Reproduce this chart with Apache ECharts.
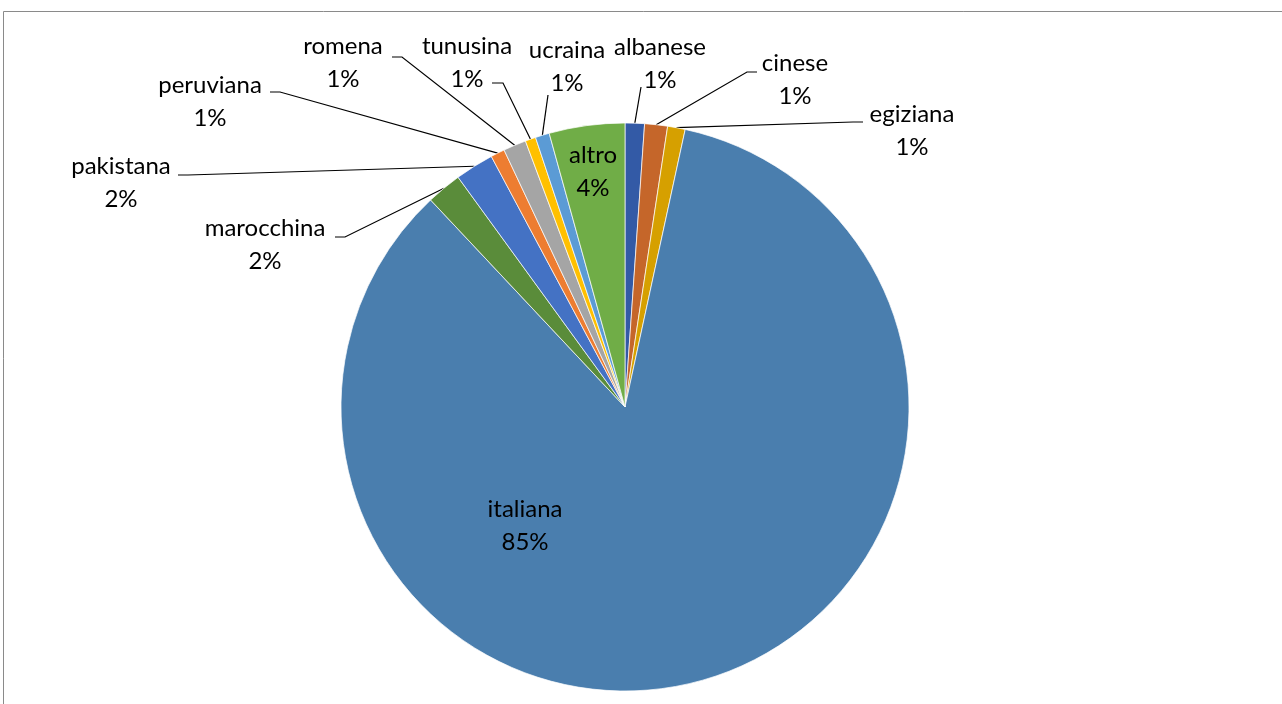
<!DOCTYPE html>
<html>
<head>
<meta charset="utf-8">
<script src="https://cdn.jsdelivr.net/npm/echarts@6/dist/echarts.min.js"></script>
<style>
html,body{margin:0;padding:0;background:#fff;}
#chart{width:1282px;height:704px;}
</style>
</head>
<body>
<div id="chart"></div>
<script>
// ---- data ----
const categories = ['albanese','cinese','egiziana','italiana','marocchina','pakistana','peruviana','romena','tunusina','ucraina','altro'];
const values = [1.1, 1.3, 1.0, 84.6, 2.0, 2.2, 0.8, 1.3, 0.6, 0.8, 4.3];
const colors = ['#335AA6','#C5662A','#D6A000','#4A7EAE','#5A8C3A','#4472C4','#ED7D31','#A5A5A5','#FFC000','#5B9BD5','#70AD47'];
const insideLabels = ['italiana','altro'];

// ---- label layout (label block centre, leader attach offset, elbow offset) ----
const labelLayoutPos = {
  albanese:   {c:[660,64],  a:[-19,23],  e:[-19,23]},
  cinese:     {c:[795,80],  a:[-38,-8],  e:[-48,-8]},
  egiziana:   {c:[912,131], a:[-49,-9],  e:[-59,-9]},
  italiana:   {c:[525,526]},
  marocchina: {c:[265,245], a:[70,-8],   e:[80,-8]},
  pakistana:  {c:[121,183], a:[57,-8],   e:[67,-8]},
  peruviana:  {c:[210,102], a:[60,-10],  e:[70,-10]},
  romena:     {c:[343,63],  a:[49,-6],   e:[59,-6]},
  tunusina:   {c:[467,63],  a:[25,20],   e:[36,20]},
  ucraina:    {c:[567,67],  a:[-19,28],  e:[-19,28]},
  altro:      {c:[593,172]}
};

const pieCenter = [625, 407];
const pieRadius = 284;

const chart = echarts.init(document.getElementById('chart'), null, {renderer:'canvas'});

const seriesData = categories.map((name, i) => {
  const inside = insideLabels.indexOf(name) >= 0;
  return {
    name: name,
    value: values[i],
    itemStyle: {color: colors[i]},
    label: {position: inside ? 'inside' : 'outside'},
    labelLine: {show: !inside}
  };
});

const option = {
  animation: false,
  backgroundColor: '#ffffff',
  graphic: [{
    type: 'rect',
    shape: {x: 3.5, y: 11.5, width: 1300, height: 720},
    style: {fill: 'none', stroke: '#8a8a8a', lineWidth: 1},
    silent: true
  }],
  series: [{
    type: 'pie',
    center: pieCenter,
    radius: pieRadius,
    startAngle: 90,
    clockwise: true,
    avoidLabelOverlap: false,
    percentPrecision: 2,
    data: seriesData,
    itemStyle: {borderColor: '#ffffff', borderWidth: 0.7},
    label: {
      show: true,
      fontFamily: 'Lato',
      fontSize: 24,
      lineHeight: 33,
      color: '#000000',
      align: 'center',
      formatter: function (p) { return p.name + '\n' + Math.round(p.percent) + '%'; }
    },
    labelLine: {
      show: true,
      length: 20,
      length2: 10,
      smooth: false,
      lineStyle: {color: '#000000', width: 1.2}
    },
    labelLayout: function (params) {
      const name = categories[params.dataIndex];
      const lp = labelLayoutPos[name];
      if (!lp) return {};
      const res = {x: lp.c[0], y: lp.c[1], align: 'center', verticalAlign: 'middle'};
      if (lp.a) {
        let anchor;
        if (params.labelLinePoints && params.labelLinePoints.length) {
          anchor = params.labelLinePoints[0];
        } else {
          let before = 0, total = 0;
          values.forEach((v, j) => { total += v; if (j < params.dataIndex) before += v; });
          const mid = (before + values[params.dataIndex] / 2) / total * 2 * Math.PI;
          anchor = [pieCenter[0] + pieRadius * Math.sin(mid), pieCenter[1] - pieRadius * Math.cos(mid)];
        }
        res.labelLinePoints = [
          [anchor[0], anchor[1]],
          [lp.c[0] + lp.e[0], lp.c[1] + lp.e[1]],
          [lp.c[0] + lp.a[0], lp.c[1] + lp.a[1]]
        ];
      }
      return res;
    }
  }]
};

chart.setOption(option);
</script>
</body>
</html>
